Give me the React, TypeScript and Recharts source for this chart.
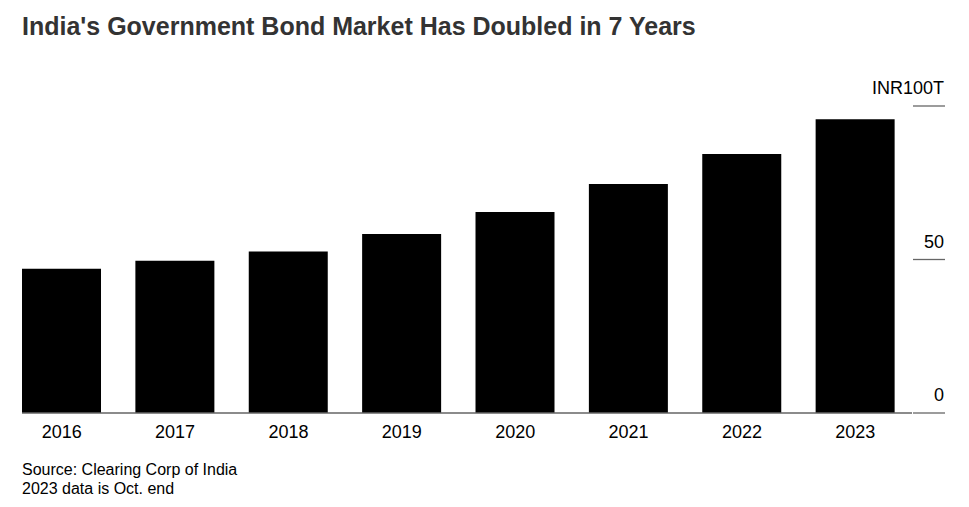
import { BarChart, Bar, XAxis, YAxis } from "recharts";

const years = ["2016", "2017", "2018", "2019", "2020", "2021", "2022", "2023"];
const outstanding = [47.0, 49.6, 52.6, 58.3, 65.5, 74.6, 84.4, 95.7];
const yTicks = [0, 50, 100];
const yTickLabels: Record<number, string> = { 0: "0", 50: "50", 100: "INR100T" };

const data = years.map((year, i) => ({ year, value: outstanding[i] }));

const FONT = "'Liberation Sans', Arial, Helvetica, sans-serif";

// right-side ticks: a short rule with the label sitting above it
const RightTick = (props: any) => {
  const { x, y, payload } = props;
  return (
    <g>
      <line x1={x + 1} x2={x + 33} y1={y} y2={y} stroke="#666" strokeWidth={1.3} />
      <text
        x={x + 32}
        y={y - 12}
        textAnchor="end"
        style={{ fontSize: 18, fill: "#000", fontFamily: FONT }}
      >
        {yTickLabels[payload.value]}
      </text>
    </g>
  );
};

export default function App() {
  return (
    <div
      style={{
        position: "absolute",
        left: 0,
        top: 0,
        width: 969,
        height: 507,
        background: "#fff",
        fontFamily: FONT,
      }}
    >
      <div
        style={{
          position: "absolute",
          left: 22,
          top: 12,
          fontSize: 25,
          fontWeight: 700,
          color: "#333",
          whiteSpace: "nowrap",
        }}
      >
        India's Government Bond Market Has Doubled in 7 Years
      </div>
      <div style={{ position: "absolute", left: 0, top: 0 }}>
        <BarChart
          width={969}
          height={507}
          data={data}
          margin={{ top: 106, right: 24, bottom: 64, left: 5 }}
          barCategoryGap="15%"
        >
          <XAxis
            dataKey="year"
            height={30}
            axisLine={{ stroke: "#666", strokeWidth: 1.3, strokeDasharray: "0 17 2000" }}
            tickLine={false}
            tickSize={0}
            tickMargin={12}
            tick={{ fontSize: 18, fill: "#000", fontFamily: FONT }}
            interval={0}
          />
          <YAxis
            orientation="right"
            domain={[0, 100]}
            ticks={yTicks}
            width={33}
            axisLine={false}
            tickLine={false}
            tickSize={0}
            tickMargin={0}
            tick={<RightTick />}
          />
          <Bar dataKey="value" fill="#000" isAnimationActive={false} />
        </BarChart>
      </div>
      <div
        style={{
          position: "absolute",
          left: 22,
          top: 460,
          fontSize: 16,
          lineHeight: "19px",
          color: "#000",
        }}
      >
        Source: Clearing Corp of India
        <br />
        2023 data is Oct. end
      </div>
    </div>
  );
}
